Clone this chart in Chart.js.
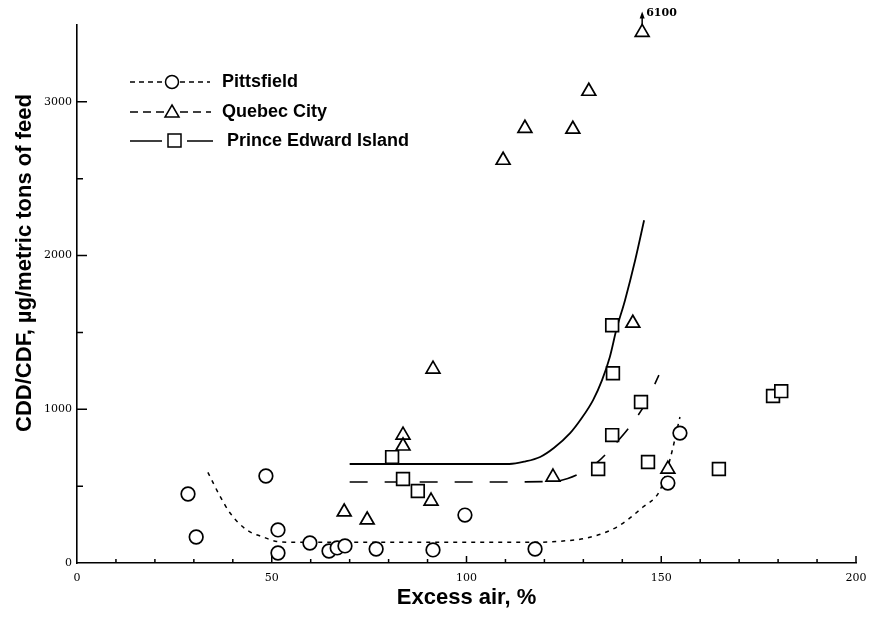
<!DOCTYPE html>
<html>
<head>
<meta charset="utf-8">
<script src="https://cdn.jsdelivr.net/npm/chart.js@4/dist/chart.umd.min.js"></script>
<style>
  html, body { margin: 0; padding: 0; background: #fff; }
  #wrap { width: 878px; height: 620px; position: relative; }
</style>
</head>
<body>
<div id="wrap"><canvas id="chart"></canvas></div>
<script>
// measured points: excess air (%) vs CDD/CDF (ug / metric ton of feed)
const pittsfieldX = [28.5, 30.6, 48.5, 51.6, 51.6, 59.8, 64.7, 66.8, 68.8, 76.8, 91.4, 99.6, 117.6, 151.7, 154.8];
const pittsfieldY = [449, 169, 566, 215, 65, 130, 78, 98, 111, 91, 85, 312, 91, 520, 845];

// last Quebec point is off scale (6100), drawn at the top of the axis
const quebecX = [68.6, 74.5, 83.7, 83.7, 90.9, 91.4, 109.4, 115.0, 127.3, 131.4, 145.1, 142.7, 122.2, 151.7];
const quebecY = [332, 280, 832, 761, 403, 1261, 2620, 2828, 2822, 3069, 3452, 1560, 559, 611];
const quebecOffScale = '6100';

const peiX = [80.9, 83.7, 87.5, 137.4, 137.6, 144.8, 137.4, 133.8, 146.6, 164.8, 178.7, 180.8];
const peiY = [689, 546, 468, 1547, 1235, 1047, 832, 611, 657, 611, 1086, 1118];

// hand-drawn trend curves
const pittsCurveX = [33.6, 36.5, 39.3, 43.6, 47.8, 51.3, 56, 90, 118, 124.8, 131, 138.6, 145.3, 149.7, 152.2, 154.8];
const pittsCurveY = [590, 445, 325, 215, 169, 140, 135, 135, 135, 143, 163, 234, 364, 475, 670, 950];

const quebecCurveX = [70, 100, 122, 126, 130, 134, 138, 142, 146, 149.4];
const quebecCurveY = [527, 527, 530, 550, 595, 665, 770, 890, 1040, 1222];

const peiCurveX = [70, 100, 111, 115, 118.9, 122.5, 126.6, 129.5, 132.5, 134.8, 136.8, 138.5, 140.7, 143.3, 145.6];
const peiCurveY = [644, 644, 644, 660, 690, 750, 845, 940, 1060, 1190, 1340, 1520, 1710, 1970, 2230];

const xTickLabels = [0, 50, 100, 150, 200];
const yTickLabels = [0, 1000, 2000, 3000];

const seriesNames = ['Pittsfield', 'Quebec City', 'Prince Edward Island'];

const zip = (xs, ys) => xs.map((x, i) => ({ x: x, y: ys[i] }));

const markerBase = {
  showLine: false,
  backgroundColor: '#fff',
  borderColor: '#000',
  borderWidth: 1.7,
  pointBackgroundColor: '#fff',
  pointBorderColor: '#000',
  pointBorderWidth: 1.7,
  clip: false,
  order: 1
};
const curveBase = {
  showLine: true,
  pointRadius: 0,
  borderColor: '#000',
  cubicInterpolationMode: 'monotone',
  fill: false,
  order: 2
};

// inward tick marks, legend, y title, off-scale note
const decorations = {
  id: 'decorations',
  afterDraw(chart) {
    const ctx = chart.ctx;
    const xs = chart.scales.x, ys = chart.scales.y;
    const x0 = xs.getPixelForValue(0), y0 = ys.getPixelForValue(0);
    ctx.save();
    ctx.strokeStyle = '#000';
    ctx.lineWidth = 1.5;
    ctx.beginPath();
    for (let v = 10; v <= 200; v += 10) {
      const px = xs.getPixelForValue(v);
      const len = v % 50 === 0 ? 7 : 4;
      ctx.moveTo(px, y0);
      ctx.lineTo(px, y0 - len);
    }
    for (let v = 500; v <= 3000; v += 500) {
      const py = ys.getPixelForValue(v);
      const len = v % 1000 === 0 ? 10 : 6;
      ctx.moveTo(x0, py);
      ctx.lineTo(x0 + len, py);
    }
    ctx.stroke();

    // off-scale note above the top triangle
    const ax = xs.getPixelForValue(quebecX[10]);
    const ay = ys.getPixelForValue(quebecY[10]);
    ctx.beginPath();
    ctx.moveTo(ax, ay - 7);
    ctx.lineTo(ax, ay - 17);
    ctx.stroke();
    ctx.beginPath();
    ctx.moveTo(ax, ay - 21);
    ctx.lineTo(ax - 2.5, ay - 14);
    ctx.lineTo(ax + 2.5, ay - 14);
    ctx.closePath();
    ctx.fillStyle = '#000';
    ctx.fill();
    ctx.font = 'bold 11px "DejaVu Serif"';
    ctx.textAlign = 'left';
    ctx.textBaseline = 'middle';
    ctx.fillText(quebecOffScale, ax + 4, ay - 19);

    // legend
    const rows = [82, 112, 141];
    ctx.lineWidth = 1.6;
    // Pittsfield
    ctx.setLineDash([5, 4]);
    ctx.beginPath();
    ctx.moveTo(130, rows[0]); ctx.lineTo(165, rows[0]);
    ctx.moveTo(180, rows[0]); ctx.lineTo(210, rows[0]);
    ctx.stroke();
    // Quebec City
    ctx.setLineDash([8, 5]);
    ctx.beginPath();
    ctx.moveTo(130, rows[1]); ctx.lineTo(164, rows[1]);
    ctx.moveTo(180, rows[1]); ctx.lineTo(211, rows[1]);
    ctx.stroke();
    // Prince Edward Island
    ctx.setLineDash([]);
    ctx.beginPath();
    ctx.moveTo(130, rows[2]); ctx.lineTo(162, rows[2]);
    ctx.moveTo(187, rows[2]); ctx.lineTo(213, rows[2]);
    ctx.stroke();

    ctx.lineWidth = 1.5;
    ctx.fillStyle = '#fff';
    ctx.beginPath();
    ctx.arc(172, rows[0], 6.5, 0, Math.PI * 2);
    ctx.fill(); ctx.stroke();
    ctx.beginPath();
    ctx.moveTo(172, rows[1] - 7);
    ctx.lineTo(179, rows[1] + 5);
    ctx.lineTo(165, rows[1] + 5);
    ctx.closePath();
    ctx.fill(); ctx.stroke();
    ctx.beginPath();
    ctx.rect(168, rows[2] - 7, 13, 13);
    ctx.fill(); ctx.stroke();

    ctx.fillStyle = '#000';
    ctx.font = 'bold 18px "Liberation Sans"';
    ctx.textAlign = 'left';
    ctx.textBaseline = 'middle';
    ctx.fillText(seriesNames[0], 222, rows[0]);
    ctx.fillText(seriesNames[1], 222, rows[1]);
    ctx.fillText(seriesNames[2], 227, rows[2]);

    // y axis title
    ctx.translate(25, 263);
    ctx.rotate(-Math.PI / 2);
    ctx.textAlign = 'center';
    ctx.font = 'bold 22px "Liberation Sans"';
    ctx.fillText('CDD/CDF, \u00b5g/metric tons of feed', 0, 0);
    ctx.restore();
  }
};

new Chart(document.getElementById('chart'), {
  type: 'scatter',
  data: {
    datasets: [
      Object.assign({}, markerBase, { label: seriesNames[0], data: zip(pittsfieldX, pittsfieldY), pointStyle: 'circle', pointRadius: 6.8 }),
      Object.assign({}, markerBase, { label: seriesNames[1], data: zip(quebecX, quebecY), pointStyle: 'triangle', pointRadius: 8 }),
      Object.assign({}, markerBase, { label: seriesNames[2], data: zip(peiX, peiY), pointStyle: 'rect', pointRadius: 9 }),
      Object.assign({}, curveBase, { label: 'pitts curve', data: zip(pittsCurveX, pittsCurveY), borderWidth: 1.5, borderDash: [4, 5] }),
      Object.assign({}, curveBase, { label: 'quebec curve', data: zip(quebecCurveX, quebecCurveY), borderWidth: 1.6, borderDash: [18, 17] }),
      Object.assign({}, curveBase, { label: 'pei curve', data: zip(peiCurveX, peiCurveY), borderWidth: 1.8 })
    ]
  },
  options: {
    responsive: true,
    maintainAspectRatio: false,
    animation: false,
    layout: { padding: { top: 25, right: 22, left: 0, bottom: 0 } },
    plugins: {
      legend: { display: false },
      tooltip: { enabled: false }
    },
    scales: {
      x: {
        type: 'linear',
        min: 0,
        max: 200,
        grid: { display: false, drawTicks: false },
        border: { display: true, color: '#000', width: 1.6 },
        afterBuildTicks: (scale) => { scale.ticks = xTickLabels.map(v => ({ value: v })); },
        afterFit: (scale) => { scale.height = 57; },
        ticks: {
          color: '#000',
          padding: 9,
          maxRotation: 0,
          callback: (v) => String(v),
          font: { family: 'DejaVu Serif', size: 11 }
        },
        title: {
          display: true,
          text: 'Excess air, %',
          color: '#000',
          padding: { top: 0, bottom: 9 },
          font: { family: 'Liberation Sans', size: 22, weight: 'bold' }
        }
      },
      y: {
        type: 'linear',
        min: 0,
        max: 3500,
        grid: { display: false, drawTicks: false },
        border: { display: true, color: '#000', width: 1.6 },
        afterBuildTicks: (scale) => { scale.ticks = yTickLabels.map(v => ({ value: v })); },
        afterFit: (scale) => { scale.width = 77; },
        ticks: {
          color: '#000',
          padding: 5,
          callback: (v) => String(v),
          font: { family: 'DejaVu Serif', size: 11 }
        }
      }
    }
  },
  plugins: [decorations]
});
</script>
</body>
</html>
